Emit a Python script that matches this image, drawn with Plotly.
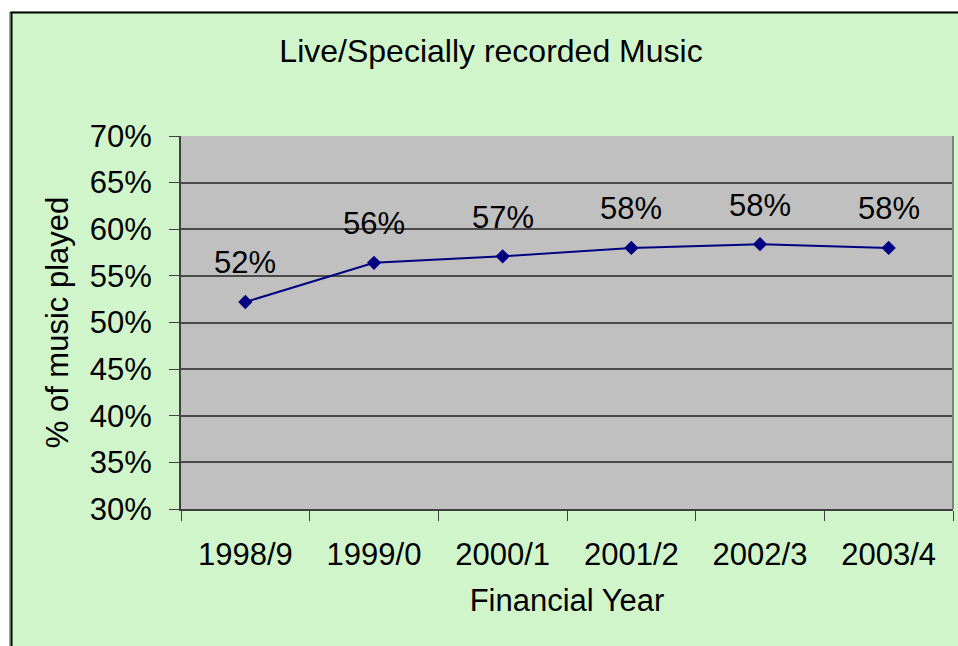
import plotly.graph_objects as go

# Share of live / specially recorded music by financial year
years = ["1998/9", "1999/0", "2000/1", "2001/2", "2002/3", "2003/4"]
share_pct = [52.2, 56.4, 57.1, 58.0, 58.4, 58.0]
y_ticks = [30, 35, 40, 45, 50, 55, 60, 65, 70]
y_tick_text = [f"{v}%" for v in y_ticks]

FONT = "Liberation Sans, Arial, sans-serif"
GREEN = "#D0F5CB"
PLOT_GREY = "#C0C0C0"
FS = 31

fig = go.Figure()
fig.add_trace(go.Scatter(
    x=years,
    y=share_pct,
    mode="lines+markers",
    line=dict(color="#000080", width=2),
    marker=dict(symbol="diamond", size=11, color="#000080"),
    hoverinfo="skip",
    showlegend=False,
))

# value labels above each point
for yr, v in zip(years, share_pct):
    fig.add_annotation(
        x=yr, y=v, text=f"{v:.0f}%", showarrow=False,
        xanchor="center", yanchor="middle", yshift=39,
        font=dict(family=FONT, size=FS, color="black"),
    )

# white margin strips with the chart frame on the top and left edges
W, H = 958, 646
L, R, T, B = 181, 5, 136, 137
pw, ph = W - L - R, H - T - B


def px_x(px):
    return (px - L) / pw


def px_y(py):
    return (H - B - py) / ph


frame_shapes = [
    dict(type="rect", xref="paper", yref="paper",
         x0=px_x(-5), x1=px_x(10), y0=px_y(H + 5), y1=px_y(-5),
         fillcolor="white", line=dict(width=0), layer="above"),
    dict(type="rect", xref="paper", yref="paper",
         x0=px_x(-5), x1=px_x(W + 5), y0=px_y(11), y1=px_y(-5),
         fillcolor="white", line=dict(width=0), layer="above"),
    dict(type="line", xref="paper", yref="paper",
         x0=px_x(9.5), x1=px_x(9.5), y0=px_y(12), y1=px_y(H + 5),
         line=dict(color="#A0A0A0", width=1), layer="above"),
    dict(type="line", xref="paper", yref="paper",
         x0=px_x(11.5), x1=px_x(11.5), y0=px_y(12), y1=px_y(H + 5),
         line=dict(color="black", width=2), layer="above"),
    dict(type="line", xref="paper", yref="paper",
         x0=px_x(10.5), x1=px_x(W + 5), y0=px_y(12.5), y1=px_y(12.5),
         line=dict(color="black", width=2), layer="above"),
    # right edge of the plotting area
    dict(type="line", xref="paper", yref="paper",
         x0=1, x1=1, y0=0, y1=1,
         line=dict(color="#808080", width=2), layer="above"),
]

fig.update_layout(
    width=W, height=H,
    margin=dict(l=L, r=R, t=T, b=B, pad=0),
    paper_bgcolor=GREEN,
    plot_bgcolor=PLOT_GREY,
    font=dict(family=FONT, size=FS, color="black"),
    title=dict(
        text="Live/Specially recorded Music",
        x=491 / W, xref="container", xanchor="center",
        y=1 - 51 / H, yref="container", yanchor="middle",
        font=dict(family=FONT, size=32, color="black"),
    ),
    shapes=frame_shapes,
    showlegend=False,
)

fig.update_xaxes(
    type="category",
    categoryorder="array", categoryarray=years,
    tickson="boundaries",
    ticks="outside", ticklen=10, tickwidth=1, tickcolor="#404040",
    showline=True, linecolor="#404040", linewidth=2,
    showgrid=False, zeroline=False,
    tickfont=dict(family=FONT, size=FS),
    ticklabelstandoff=17,
    title=dict(text="Financial Year", font=dict(family=FONT, size=FS), standoff=18),
    range=[-0.5, len(years) - 0.5],
)

fig.update_yaxes(
    range=[30, 70],
    tickmode="array", tickvals=y_ticks, ticktext=y_tick_text,
    ticks="outside", ticklen=10, tickwidth=1, tickcolor="#404040",
    showline=True, linecolor="#404040", linewidth=2,
    showgrid=True, gridcolor="#4A4A4A", gridwidth=1.5,
    zeroline=False,
    tickfont=dict(family=FONT, size=FS),
    ticklabelstandoff=11,
    title=dict(text="% of music played", font=dict(family=FONT, size=FS), standoff=12),
)

fig.write_html("out.html")
